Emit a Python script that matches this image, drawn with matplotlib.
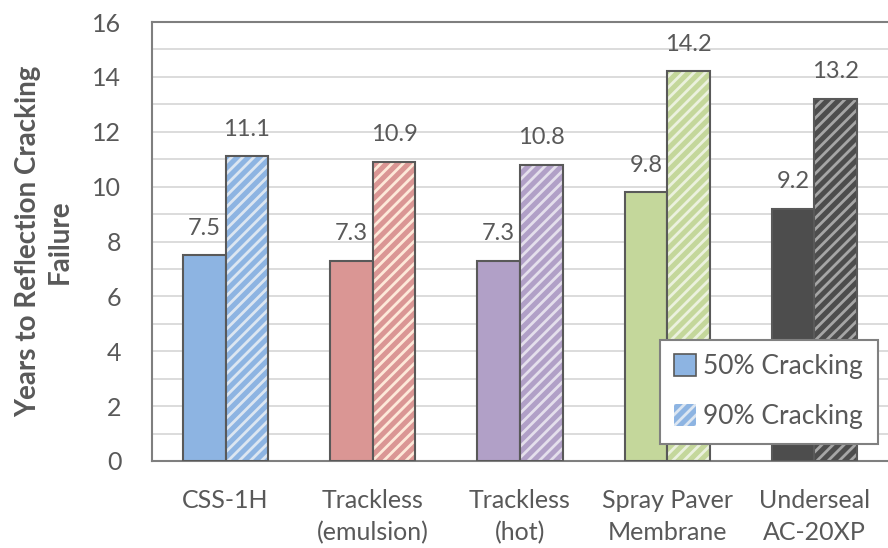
import matplotlib.pyplot as plt
import numpy as np
from matplotlib.patches import Patch

categories = ["CSS-1H", "Trackless\n(emulsion)", "Trackless\n(hot)", "Spray Paver\nMembrane", "Underseal\nAC-20XP"]
crack50 = [7.5, 7.3, 7.3, 9.8, 9.2]
crack90 = [11.1, 10.9, 10.8, 14.2, 13.2]
fill_colors = ["#8DB4E2", "#DA9694", "#B1A0C7", "#C4D79B", "#4D4D4D"]
hatch_colors = ["#DCE6F1", "#FDE9D9", "#E4DFEC", "#EBF1DE", "#A6A6A6"]

plt.rcParams['font.family'] = ['Lato', 'DejaVu Sans']
plt.rcParams['hatch.linewidth'] = 2.0
txt = "#595959"
edge = "#595959"

fig = plt.figure(figsize=(8.88, 5.48), dpi=100)
ax = fig.add_axes([152 / 888, 1 - 461 / 548, 736 / 888, 439 / 548])

x = np.arange(len(categories))
w = 0.29

ax.bar(x - w / 2, crack50, w, color=fill_colors, edgecolor=edge, linewidth=1.5, zorder=3)
# hatched bars: fill + hatch first, outline on top
for xi, v, fc, hc in zip(x, crack90, fill_colors, hatch_colors):
    ax.bar(xi + w / 2, v, w, color=fc, edgecolor=hc, hatch="///", linewidth=0, zorder=3)
ax.bar(x + w / 2, crack90, w, fill=False, edgecolor=edge, linewidth=1.5, zorder=4)

for xi, v in zip(x, crack50):
    ax.text(xi - w / 2, v + 0.6, f"{v:.1f}", ha="center", va="bottom", fontsize=17, color=txt)
for xi, v in zip(x, crack90):
    ax.text(xi + w / 2, v + 0.6, f"{v:.1f}", ha="center", va="bottom", fontsize=17, color=txt)

ax.set_xlim(-0.5, len(categories) - 0.5)
ax.set_ylim(0, 16)
ax.set_yticks(np.arange(0, 17, 2))
ax.set_yticks(np.arange(0, 17, 1), minor=True)
ax.grid(axis="y", which="both", color="#D9D9D9", linewidth=1.3, zorder=0)
ax.set_axisbelow(True)
ax.set_xticks(x)
ax.set_xticklabels(categories, fontsize=18, color=txt, linespacing=1.5)
ax.tick_params(axis="y", labelsize=18, colors=txt, length=0, pad=22, which="both")
ax.tick_params(axis="x", length=0, pad=20)

for s in ["left", "bottom", "top"]:
    ax.spines[s].set_color("#7F7F7F")
    ax.spines[s].set_linewidth(1.5)
ax.spines["right"].set_visible(False)

ax.set_ylabel("Years to Reflection Cracking\nFailure", fontsize=20, fontweight="bold", color=txt, labelpad=14, linespacing=1.25)

handles = [
    Patch(facecolor=fill_colors[0], edgecolor=edge, linewidth=1.2),
    Patch(facecolor=fill_colors[0], edgecolor=hatch_colors[0], hatch="///", linewidth=0),
]
leg = ax.legend(handles, ["50% Cracking", "90% Cracking"], loc="lower right", bbox_to_anchor=(0.986, 0.039),
                borderaxespad=0, fontsize=19, frameon=True, fancybox=False, framealpha=1, edgecolor="#808080",
                handlelength=0.8, handleheight=0.9, handletextpad=0.3, labelspacing=0.95, borderpad=0.55)
leg.get_frame().set_linewidth(1.5)
for t in leg.get_texts():
    t.set_color(txt)
leg.set_zorder(5)

fig.savefig("out.png", dpi=100)
